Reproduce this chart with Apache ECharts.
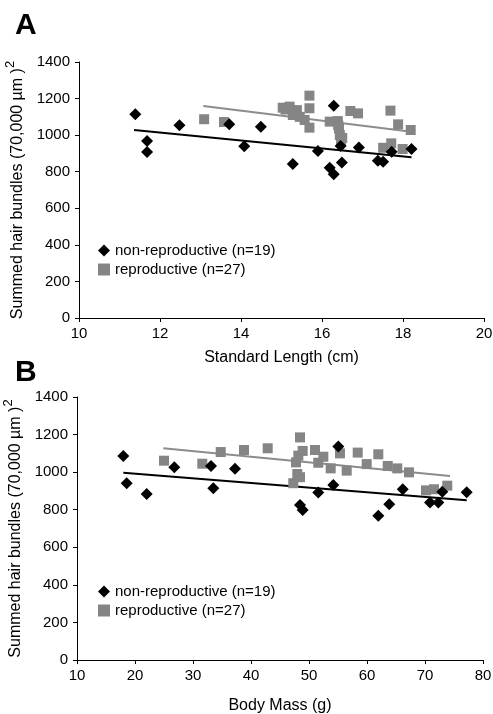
<!DOCTYPE html>
<html>
<head>
<meta charset="utf-8">
<script src="https://cdn.jsdelivr.net/npm/echarts@6/dist/echarts.min.js"></script>
<style>
  html, body { margin: 0; padding: 0; background: #fff; }
  #chart { width: 493px; height: 714px; }
</style>
</head>
<body>
<div id="chart"></div>
<script>
// panel A: standard length (cm) vs summed hair bundles
var lenNonRep = [11.39, 11.68, 11.68, 12.48, 13.71, 14.08, 14.49, 15.28, 15.90, 16.19, 16.29, 16.29, 16.46, 16.49, 16.91, 17.38, 17.51, 17.72, 18.21];
var bundlesLenNonRep = [1114, 968, 908, 1054, 1059, 939, 1046, 842, 913, 822, 1161, 786, 941, 851, 933, 860, 855, 909, 924];
var lenRep = [13.09, 13.58, 15.03, 15.20, 15.38, 15.28, 15.45, 15.10, 15.69, 15.69, 15.57, 15.69, 16.19, 16.39, 16.42, 16.44, 16.47, 16.50, 16.40, 16.70, 16.89, 17.69, 17.88, 18.19, 17.51, 17.71, 17.99];
var bundlesLenRep = [1087, 1072, 1150, 1156, 1137, 1110, 1100, 1140, 1216, 1147, 1083, 1041, 1074, 1077, 1037, 1001, 964, 985, 1055, 1132, 1119, 1134, 1059, 1028, 931, 955, 924];

// panel B: body mass (g) vs summed hair bundles
var massNonRep = [17.99, 18.57, 22.02, 26.78, 33.10, 33.50, 37.24, 48.45, 48.91, 51.60, 54.19, 55.05, 61.95, 63.84, 66.16, 70.86, 72.30, 72.98, 77.19];
var bundlesMassNonRep = [1086, 941, 884, 1026, 1033, 914, 1018, 825, 798, 891, 932, 1136, 768, 829, 909, 839, 838, 896, 893];
var massRep = [25.0, 31.60, 34.78, 38.79, 42.88, 47.29, 47.76, 47.98, 48.16, 48.45, 48.45, 48.91, 51.03, 51.60, 52.47, 53.74, 55.34, 56.50, 58.40, 59.95, 61.95, 63.57, 65.22, 67.24, 70.17, 71.55, 73.84];
var bundlesMassRep = [1061, 1045, 1107, 1118, 1127, 941, 1052, 990, 1088, 1185, 973, 1113, 1118, 1050, 1082, 1020, 1100, 1008, 1104, 1043, 1095, 1033, 1020, 999, 903, 909, 928];

// trend line end points
var trendLenNonRepX = [11.36, 18.21], trendLenNonRepY = [1028, 879];
var trendLenRepX = [13.07, 18.21], trendLenRepY = [1159, 1019];
var trendMassNonRepX = [17.99, 77.19], trendMassNonRepY = [997, 851];
var trendMassRepX = [24.88, 74.31], trendMassRepY = [1127, 979];

var nonRepName = "non-reproductive (n=19)";
var repName = "reproductive (n=27)";
var yName = "{a|Summed hair bundles (70,000 \u00b5m )}{s|2}";

var font = "Liberation Sans, Arial, sans-serif";
var grey = "#858585";

function pairs(xs, ys) {
  var out = [];
  for (let i = 0; i < xs.length; i++) {
    out.push([xs[i], ys[i]]);
  }
  return out;
}

function plain(v) {
  return String(v);
}

function makeXAxis(idx, min, max, step, name, gap) {
  return {
    gridIndex: idx, type: "value", min: min, max: max, interval: step,
    name: name, nameLocation: "middle", nameGap: gap,
    nameTextStyle: { color: "#000", fontSize: 16, fontFamily: font },
    axisLine: { lineStyle: { color: "#000", width: 1 } },
    axisTick: { show: true, length: 4, lineStyle: { color: "#000" } },
    axisLabel: { color: "#000", fontSize: 15, fontFamily: font, margin: 8, formatter: plain },
    splitLine: { show: false }
  };
}

function makeYAxis(idx) {
  return {
    gridIndex: idx, type: "value", min: 0, max: 1400, interval: 200,
    name: yName, nameLocation: "middle", nameRotate: 90, nameGap: 41,
    nameTextStyle: {
      color: "#000", fontFamily: font,
      rich: {
        a: { fontSize: 16, fontFamily: font, color: "#000", lineHeight: 22, verticalAlign: "bottom" },
        s: { fontSize: 13, fontFamily: font, color: "#000", lineHeight: 22, verticalAlign: "top" }
      }
    },
    axisLine: { show: true, lineStyle: { color: "#000", width: 1 } },
    axisTick: { show: true, length: 4, lineStyle: { color: "#000" } },
    axisLabel: { color: "#000", fontSize: 15, fontFamily: font, margin: 9, formatter: plain },
    splitLine: { show: false }
  };
}

function scatter(idx, name, xs, ys, symbol, color, size) {
  return {
    type: "scatter", name: name, xAxisIndex: idx, yAxisIndex: idx,
    data: pairs(xs, ys), symbol: symbol, symbolSize: size,
    itemStyle: { color: color, opacity: 1 }, z: 3
  };
}

function trend(idx, xs, ys, color) {
  return {
    type: "line", xAxisIndex: idx, yAxisIndex: idx, data: pairs(xs, ys),
    symbol: "none", lineStyle: { color: color, width: 2 }, silent: true, z: 2
  };
}

function creatChart(dom) {
  var myChart = echarts.init(dom, null, { renderer: "canvas" });
  var option = {
    animation: false,
    backgroundColor: "#fff",
    title: [
      { text: "A", left: 10, top: 6, textStyle: { fontSize: 30, fontWeight: "bold", color: "#000", fontFamily: font } },
      { text: "B", left: 10, top: 353, textStyle: { fontSize: 30, fontWeight: "bold", color: "#000", fontFamily: font } }
    ],
    legend: [
      {
        orient: "vertical", left: 93, top: 238, itemGap: 4, itemWidth: 12, itemHeight: 12,
        textStyle: { fontSize: 15, color: "#000", fontFamily: font }, selectedMode: false,
        data: [{ name: nonRepName, icon: "diamond" }, { name: repName, icon: "rect" }]
      },
      {
        orient: "vertical", left: 93, top: 579, itemGap: 4, itemWidth: 12, itemHeight: 12,
        textStyle: { fontSize: 15, color: "#000", fontFamily: font }, selectedMode: false,
        data: [{ name: nonRepName + " ", icon: "diamond" }, { name: repName + " ", icon: "rect" }]
      }
    ],
    grid: [
      { left: 79, right: 9, top: 62, height: 256, outerBoundsMode: "none", containLabel: false },
      { left: 77, right: 10, top: 397, height: 263, outerBoundsMode: "none", containLabel: false }
    ],
    xAxis: [
      makeXAxis(0, 10, 20, 2, "Standard Length (cm)", 32),
      makeXAxis(1, 10, 80, 10, "Body Mass (g)", 38)
    ],
    yAxis: [makeYAxis(0), makeYAxis(1)],
    series: [
      trend(0, trendLenRepX, trendLenRepY, "#8c8c8c"),
      trend(0, trendLenNonRepX, trendLenNonRepY, "#000"),
      scatter(0, repName, lenRep, bundlesLenRep, "rect", grey, 10),
      scatter(0, nonRepName, lenNonRep, bundlesLenNonRep, "diamond", "#000", 12),
      trend(1, trendMassRepX, trendMassRepY, "#8c8c8c"),
      trend(1, trendMassNonRepX, trendMassNonRepY, "#000"),
      scatter(1, repName + " ", massRep, bundlesMassRep, "rect", grey, 10),
      scatter(1, nonRepName + " ", massNonRep, bundlesMassNonRep, "diamond", "#000", 12)
    ]
  };
  myChart.setOption(option);
}

creatChart(document.getElementById("chart"));
</script>
</body>
</html>
